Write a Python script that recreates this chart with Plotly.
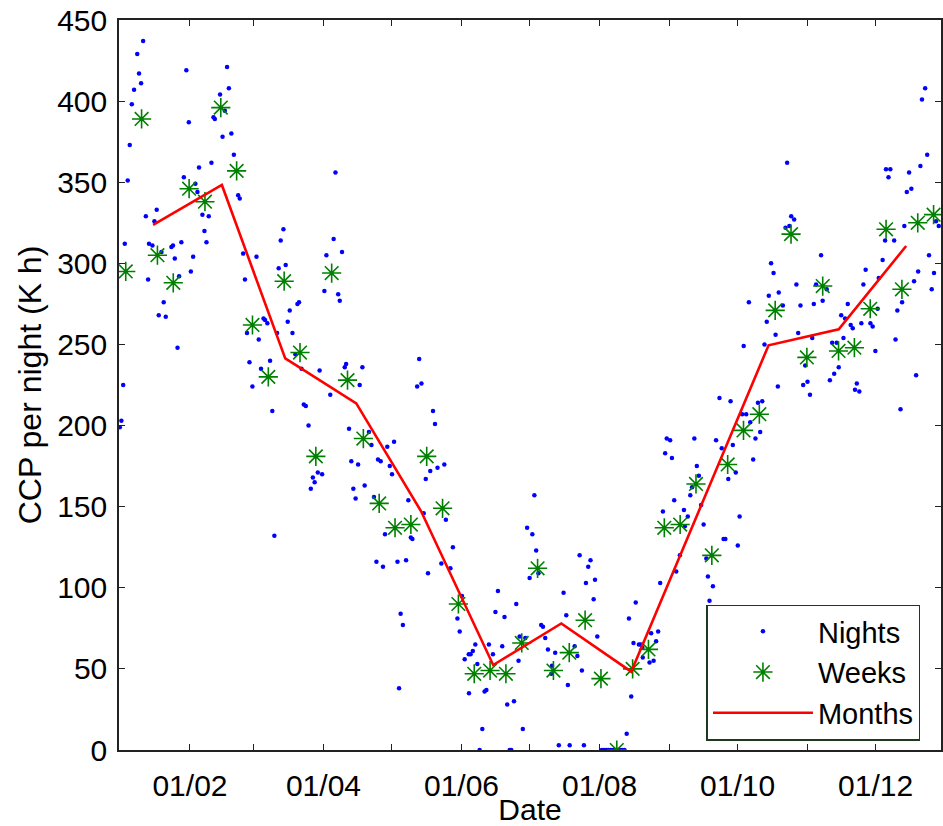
import pandas as pd
import plotly.graph_objects as go

BASE = pd.Timestamp("2011-01-01")

# ---- Nights: day offset from 1 Jan, CCP per night (K h) ----
nights_day = [
    0.0, 0.7, 1.5, 2.2, 3.5, 4.4, 5.3, 6.3, 7.7, 8.5, 9.4, 10.3, 11.5, 12.5, 12.9, 14.4, 15.3, 16.3, 17.2, 18.4, 19.4, 20.3, 22.8, 23.5, 24.3, 25.5, 26.2, 27.2, 28.3, 29.4, 30.5,
    31.4, 32.4, 33.4, 34.3, 35.0, 36.5, 37.4, 38.3, 39.3, 40.5, 41.4, 42.0, 44.3, 45.4, 46.4, 47.4, 48.2, 49.3, 50.4, 52.3, 53.0, 54.5, 55.3, 56.2, 57.3, 58.6,
    60.4, 61.4, 62.4, 63.5, 64.2, 65.2, 66.4, 67.4, 68.3, 69.5, 70.2, 71.1, 72.3, 73.3, 74.2, 75.1, 76.3, 77.6, 78.5, 79.2, 80.3, 81.3, 82.2, 83.4, 84.4, 85.3, 86.1, 87.5, 88.3, 89.4,
    90.4, 91.3, 93.0, 94.5, 95.3, 96.5, 97.2, 98.2, 99.4, 100.0, 101.3, 102.3, 103.2, 104.2, 105.3, 106.0, 107.2, 108.2, 110.1, 111.2, 112.3, 113.4, 114.1, 115.3, 116.3, 117.2, 118.2, 119.3,
    120.3, 121.2, 122.7, 123.4, 124.1, 125.1, 126.5, 127.5, 128.6, 129.3, 131.4, 132.3, 133.3, 134.3, 135.2, 136.2, 137.2, 138.4, 139.3, 140.4, 142.1, 143.4, 144.1, 146.1, 147.2, 149.2, 150.2,
    151.2, 152.4, 154.2, 154.3, 155.0, 156.0, 157.1, 158.0, 159.0, 160.2, 161.2, 162.0, 163.1, 164.9, 166.0, 167.1, 169.0, 170.0, 171.2, 172.3, 173.0, 174.2, 175.2, 176.2, 176.7, 178.1, 179.2, 180.0,
    181.1, 182.3, 183.2, 184.0, 185.0, 186.2, 187.0, 188.0, 189.2, 190.7, 191.0, 192.4, 194.0, 196.1, 197.3, 198.0, 198.8, 201.0, 202.2, 203.2, 204.2, 205.1, 206.0, 207.0, 208.0, 209.4, 210.0, 211.0,
    213, 214, 215, 216, 217, 218, 219, 220, 221, 222, 223, 224.0, 225.0, 226.0, 227.0, 228.0, 229.4, 230.1, 230.9, 231.1, 234.1, 234.8, 235.9, 237.0, 237.9, 238.8, 240.0, 241.0, 241.7,
    243.2, 244.0, 245.0, 245.9, 247.5, 249.3, 249.7, 251.0, 252.1, 252.9, 253.9, 255.0, 255.9, 256.9, 258.0, 259.2, 259.9, 260.6, 262.1, 262.8, 263.5, 265.0, 266.0, 266.8, 267.6, 268.9, 269.9, 270.9, 272.2,
    273.1, 273.9, 275.0, 275.7, 276.8, 278.0, 278.6, 279.9, 280.9, 282.0, 283.0, 283.9, 284.9, 285.9, 286.8, 287.8, 288.9, 289.8, 290.8, 291.2, 293.0, 294.2, 294.9, 295.9, 296.7, 298.0, 299.0, 299.8, 300.8, 302.0, 302.9,
    303.9, 305.0, 306.0, 306.7, 307.7, 309.9, 310.6, 312.4, 313.8, 314.8, 315.7, 316.8, 317.7, 318.8, 319.8, 320.5, 321.7, 323.0, 323.9, 324.9, 325.7, 326.8, 327.7, 328.6, 329.6, 331.7, 332.7, 333.9,
    334.9, 335.4, 337.1, 338.2, 338.6, 339.7, 340.5, 342.2, 342.8, 343.6, 345.0, 345.7, 346.7, 347.8, 348.8, 349.8, 351.0, 351.9, 352.8, 353.8, 354.5, 355.9, 356.8, 357.6, 358.8, 359.8, 360.7, 361.9,
]
nights_val = [
    199, 203, 225, 312, 351, 373, 398, 407, 429, 417, 411, 437, 329, 290, 312, 311, 326, 333, 268, 307, 276, 267, 310, 311, 303, 248, 292, 313, 353, 419, 387,
    295, 304, 349, 344, 359, 330, 320, 313, 329, 362, 390, 389, 404, 378, 394, 421, 408, 380, 367, 342, 340, 306, 290, 257, 239, 224,
    304, 253, 235, 266, 265, 263, 240, 209, 132, 257, 297, 314, 321, 299, 264, 271, 257, 244, 275, 276, 235, 213, 212, 200, 161, 168, 165, 171, 234, 170,
    283, 305, 219, 315, 356, 281, 277, 307, 236, 238, 198, 178, 161, 155, 176, 225, 236, 163, 196, 188, 156, 116, 179, 178, 113, 133, 187, 175,
    170, 190, 116, 38, 84, 77, 117, 154, 131, 130, 224, 241, 226, 146, 167, 109, 172, 209, 201, 174, 115, 176, 142, 112, 125, 81, 73,
    95, 56, 59, 35, 59, 61, 65, 53, 0, 13, 36, 37, 65, 59, 85, 98, 64, 82, 28, 0, 0, 30, 90, 55, 70, 13, 69, 137,
    106, 133, 157, 123, 109, 77, 76, 69, 62, 47, 52, 60, 3, 97, 83, 40, 3, 64, 58, 120, 49, 3, 103, 113, 117, 93, 105, 70,
    0, 0, 0, 0, 0, 0, 0, 0, 0, 0, 0, 10, 81, 33, 66, 91, 65, 65, 63, 57, 54, 72, 55, 67, 73, 103, 147, 183, 192,
    191, 180, 154, 110, 120, 148, 138, 144, 157, 162, 192, 175, 169, 151, 139, 118, 107, 92, 101, 88, 191, 217, 186, 130, 130, 167, 215, 188, 171,
    126, 144, 207, 249, 207, 276, 202, 179, 192, 214, 196, 215, 250, 264, 280, 300, 294, 256, 224, 282, 274, 322, 362, 323, 329, 327, 287, 257, 274, 225, 237,
    227, 219, 254, 275, 287, 305, 277, 284, 228, 251, 232, 251, 236, 268, 254, 266, 275, 262, 260, 222, 226, 221, 263, 287, 296, 263, 261, 246,
    272, 291, 302, 314, 358, 353, 358, 314, 253, 271, 210, 276, 323, 344, 356, 346, 289, 231, 295, 360, 401, 408, 367, 305, 284, 294, 326, 323,
]

# ---- Weeks: weekly means, first week centred on 3 Jan ----
week_first = "2011-01-03 15:00"
week_val = [295, 389, 305, 288, 346, 338, 396, 357, 262, 230,
            289, 245, 181, 294, 228, 192, 152, 137, 139, 181,
            149, 90, 47, 49, 47, 66, 112, 49, 60, 80,
            44, 0, 50, 62, 137, 139, 164, 120, 176, 197,
            207, 271, 318, 242, 286, 246, 248, 272, 321, 284,
            325, 330]

# ---- Months: monthly means ----
month_day = [14.7, 45.1, 73.1, 104.5, 133.2, 165.0, 195.1, 226.0, 257.0, 286.7, 317.7, 347.5]
month_val = [323.7, 348.3, 241.4, 213.7, 147.0, 52.4, 78.0, 48.3, 151.0, 249.5, 259.3, 310.7]

# ---- Axis ticks ----
tick_dates = ["2011-02-01", "2011-03-01", "2011-04-01", "2011-05-01", "2011-06-01", "2011-07-01",
              "2011-08-01", "2011-09-01", "2011-10-01", "2011-11-01", "2011-12-01"]
tick_text = ["01/02", "", "01/04", "", "01/06", "", "01/08", "", "01/10", "", "01/12"]
y_ticks = [0, 50, 100, 150, 200, 250, 300, 350, 400, 450]

nights_x = BASE + pd.to_timedelta(nights_day, unit="D")
week_x = pd.date_range(week_first, periods=len(week_val), freq="7D")
month_x = BASE + pd.to_timedelta(month_day, unit="D")

FONT = "Liberation Sans, Arial, sans-serif"

fig = go.Figure()
fig.add_trace(go.Scatter(x=nights_x, y=nights_val, mode="markers", name="Nights",
                         marker=dict(color="#0000FF", size=4.5, line=dict(width=0))))
fig.add_trace(go.Scatter(x=week_x, y=week_val, mode="markers", name="Weeks",
                         marker=dict(symbol="asterisk-open", color="#008000", size=16,
                                     line=dict(color="#008000", width=1.6))))
fig.add_trace(go.Scatter(x=month_x, y=month_val, mode="lines", name="Months",
                         line=dict(color="#FF0000", width=2.6)))

x_lo = BASE + pd.Timedelta(days=-0.36)
x_hi = BASE + pd.Timedelta(days=362.9)

fig.update_layout(
    width=943, height=826,
    margin=dict(l=119, r=2, t=20, b=76, autoexpand=False),
    paper_bgcolor="white", plot_bgcolor="white",
    font=dict(family=FONT, size=30, color="black"),
    showlegend=True,
    legend=dict(x=0.975, y=0.013, xanchor="right", yanchor="bottom",
                bgcolor="white", bordercolor="#1e3a1e", borderwidth=1.5,
                font=dict(family=FONT, size=29, color="black"),
                itemwidth=100, tracegroupgap=0),
    xaxis=dict(type="date", range=[x_lo, x_hi], tickvals=tick_dates, ticktext=tick_text,
               automargin=False,
               ticks="inside", ticklen=6, tickwidth=1, tickcolor="#222",
               showline=True, linecolor="#222", linewidth=1.5, mirror="ticks",
               showgrid=False, zeroline=False,
               tickfont=dict(family=FONT, size=30, color="black"),
               ticklabelstandoff=8,
               title=dict(text="Date", font=dict(family=FONT, size=30, color="black"), standoff=9)),
    yaxis=dict(range=[0, 450], tickvals=y_ticks,
               automargin=False,
               ticks="inside", ticklen=6, tickwidth=1, tickcolor="#222",
               showline=True, linecolor="#222", linewidth=1.5, mirror="ticks",
               showgrid=False, zeroline=False,
               tickfont=dict(family=FONT, size=30, color="black"),
               ticklabelstandoff=4,
               title=dict(text="CCP per night (K h)", font=dict(family=FONT, size=32, color="black"), standoff=6)),
)

fig.write_html("out.html")
